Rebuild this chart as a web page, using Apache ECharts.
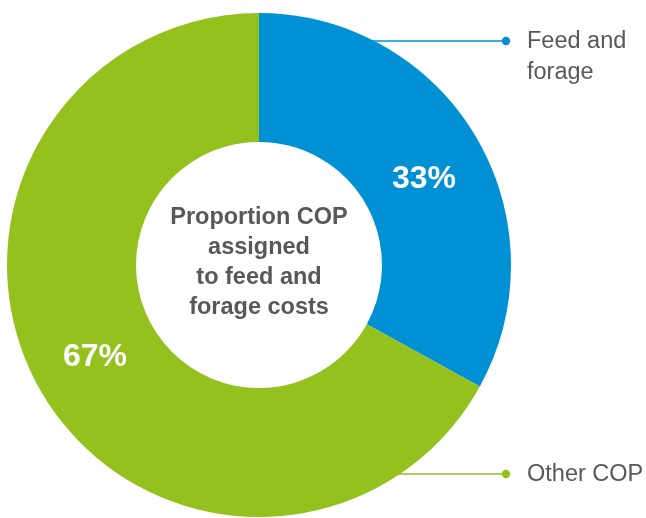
<!DOCTYPE html>
<html>
<head>
<meta charset="utf-8">
<script src="https://cdn.jsdelivr.net/npm/echarts@6/dist/echarts.min.js"></script>
<style>
  html, body { margin: 0; padding: 0; background: #ffffff; }
  #chart { width: 646px; height: 518px; }
</style>
</head>
<body>
<div id="chart"></div>
<script>
// Share of cost of production (COP)
const categories = ['Feed and forage', 'Other COP'];
const shares = [33, 67];
const keyLabels = [['Feed and', 'forage'], ['Other COP']];
const centreTitle = ['Proportion COP', 'assigned', 'to feed and', 'forage costs'];

const colours = ['#0091d5', '#95c11f'];
const textGrey = '#58585a';
const fontFamily = '"Liberation Sans", Arial, Helvetica, sans-serif';
// nudges for the in-ring percentage labels
const labelNudges = [[1, 11], [0, -5]];

const chart = echarts.init(document.getElementById('chart'), null, { renderer: 'canvas' });

// Key rows on the right: a thin rule running in from behind the ring, a dot, then the name
const keyRowsY = [41, 474];
const keyGraphics = [];
categories.forEach((name, i) => {
  const y = keyRowsY[i];
  keyGraphics.push({
    type: 'line', z: 0,
    shape: { x1: 300, y1: y, x2: 506, y2: y },
    style: { stroke: colours[i], lineWidth: 1.4 }
  });
  keyGraphics.push({
    type: 'circle', z: 1,
    shape: { cx: 506, cy: y, r: 4.2 },
    style: { fill: colours[i] }
  });
  keyGraphics.push({
    type: 'text', z: 1,
    x: 527, y: y,
    style: {
      text: keyLabels[i].join('\n'),
      fill: textGrey,
      font: '23.5px ' + fontFamily,
      lineHeight: 31,
      verticalAlign: 'top',
      padding: [-15, 0, 0, 0]
    }
  });
});

// Caption in the hole of the ring
keyGraphics.push({
  type: 'text', z: 5,
  x: 259, y: 263,
  style: {
    text: centreTitle.join('\n'),
    fill: textGrey,
    font: 'bold 23.5px ' + fontFamily,
    lineHeight: 30,
    align: 'center',
    verticalAlign: 'middle'
  }
});

chart.setOption({
  animation: false,
  backgroundColor: '#ffffff',
  graphic: { elements: keyGraphics },
  series: [{
    type: 'pie',
    z: 2,
    center: [259, 265],
    radius: [123, 252],
    startAngle: 90,
    clockwise: true,
    silent: true,
    label: {
      show: true,
      position: 'inside',
      formatter: '{c}%',
      color: '#ffffff',
      fontFamily: fontFamily,
      fontWeight: 'bold',
      fontSize: 32
    },
    labelLine: { show: false },
    itemStyle: { borderWidth: 0 },
    data: categories.map((name, i) => ({
      name: name,
      value: shares[i],
      itemStyle: { color: colours[i] },
      label: { offset: labelNudges[i] }
    }))
  }]
});
</script>
</body>
</html>
